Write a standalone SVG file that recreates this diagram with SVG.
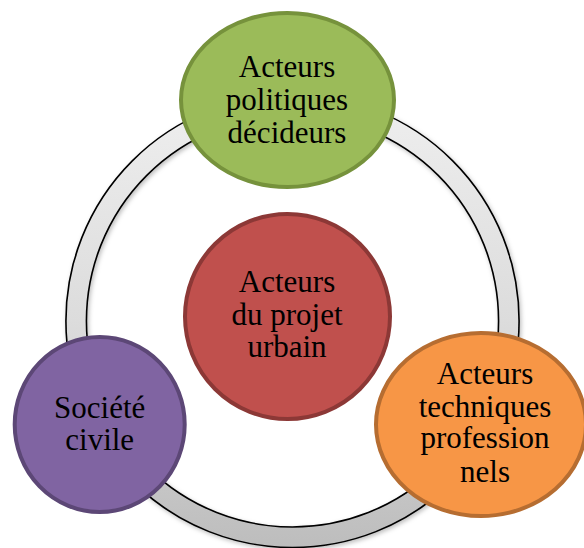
<svg xmlns="http://www.w3.org/2000/svg" width="584" height="548" viewBox="0 0 584 548">
  <defs>
    <linearGradient id="ringGrad" x1="0" y1="0" x2="0" y2="1">
      <stop offset="0" stop-color="#efefef"/>
      <stop offset="0.5" stop-color="#dcdcdc"/>
      <stop offset="1" stop-color="#bdbdbd"/>
    </linearGradient>
    <filter id="shadow" x="-10%" y="-10%" width="120%" height="120%">
      <feDropShadow dx="1.5" dy="2" stdDeviation="2" flood-color="#000" flood-opacity="0.25"/>
    </filter>
  </defs>
  <style>
    .node-text { font-family: "Liberation Serif", "Times New Roman", serif; font-size: 31px; fill: #000; text-anchor: middle; }
    .ring { fill: url(#ringGrad); fill-rule: evenodd; stroke: #000; stroke-width: 1.6; }
  </style>
  <rect width="584" height="548" fill="#ffffff"/>
  <g id="connectors">
    <path class="ring" filter="url(#shadow)" d="M 292.5 94.5 A 226.5 226.5 0 1 1 292.5 547.5 A 226.5 226.5 0 1 1 292.5 94.5 Z M 292.5 115 A 206 206 0 1 0 292.5 527 A 206 206 0 1 0 292.5 115 Z"/>
  </g>
  <g id="node-politiques">
    <ellipse cx="287.5" cy="100" rx="106.5" ry="87" fill="#9bbb59" stroke="#76923c" stroke-width="4"/>
    <text class="node-text" x="287" y="76.5">Acteurs</text>
    <text class="node-text" x="287" y="109.5">politiques</text>
    <text class="node-text" x="287" y="142.5">décideurs</text>
  </g>
  <g id="node-projet">
    <circle cx="287.5" cy="316.5" r="102.5" fill="#c0504d" stroke="#8c3836" stroke-width="4"/>
    <text class="node-text" x="287" y="292.3">Acteurs</text>
    <text class="node-text" x="287" y="325">du projet</text>
    <text class="node-text" x="287" y="357.3">urbain</text>
  </g>
  <g id="node-societe">
    <ellipse cx="99.7" cy="424.5" rx="85" ry="87.5" fill="#8064a2" stroke="#5c4776" stroke-width="4"/>
    <text class="node-text" x="99.7" y="418.3">Société</text>
    <text class="node-text" x="99.7" y="450">civile</text>
  </g>
  <g id="node-techniques">
    <ellipse cx="481" cy="424.5" rx="105" ry="91.5" fill="#f79646" stroke="#b66d31" stroke-width="4"/>
    <text class="node-text" x="485" y="384.3">Acteurs</text>
    <text class="node-text" x="485" y="416.7">techniques</text>
    <text class="node-text" x="485" y="448.3">profession</text>
    <text class="node-text" x="485" y="481.7">nels</text>
  </g>
</svg>
